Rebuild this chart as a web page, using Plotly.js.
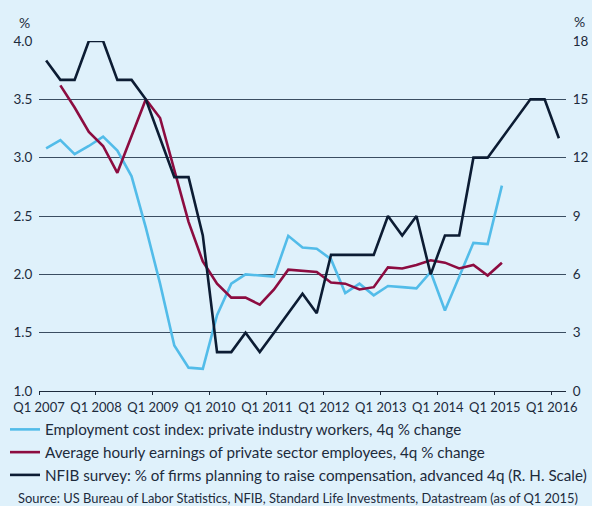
<!DOCTYPE html>
<html>
<head>
<meta charset="utf-8">
<script src="https://cdn.plot.ly/plotly-3.0.1.min.js"></script>
<style>html,body{margin:0;padding:0;background:#dff1fb;}#chart{width:592px;height:506px;}</style>
</head>
<body>
<div id="chart"></div>
<script>
// Quarters (categories)
const quarters = ["Q1 2007","Q2 2007","Q3 2007","Q4 2007","Q1 2008","Q2 2008","Q3 2008","Q4 2008",
  "Q1 2009","Q2 2009","Q3 2009","Q4 2009","Q1 2010","Q2 2010","Q3 2010","Q4 2010",
  "Q1 2011","Q2 2011","Q3 2011","Q4 2011","Q1 2012","Q2 2012","Q3 2012","Q4 2012",
  "Q1 2013","Q2 2013","Q3 2013","Q4 2013","Q1 2014","Q2 2014","Q3 2014","Q4 2014",
  "Q1 2015","Q2 2015","Q3 2015","Q4 2015","Q1 2016"];
const tickLabels = ["Q1 2007","Q1 2008","Q1 2009","Q1 2010","Q1 2011","Q1 2012","Q1 2013","Q1 2014","Q1 2015","Q1 2016"];

// Employment cost index, 4q % change (left scale), Q1 2007 - Q1 2015
const eci = [3.08,3.15,3.03,3.10,3.18,3.06,2.84,2.40,1.92,1.39,1.20,1.19,1.65,1.92,2.00,1.99,
  1.98,2.33,2.23,2.22,2.13,1.84,1.92,1.82,1.90,1.89,1.88,2.02,1.69,1.98,2.27,2.26,2.76];
// Average hourly earnings, 4q % change (left scale), from Q2 2007
const ahe = [null,3.62,3.43,3.22,3.10,2.87,3.18,3.50,3.34,2.89,2.45,2.11,1.92,1.80,1.80,1.74,
  1.87,2.04,2.03,2.02,1.93,1.92,1.87,1.89,2.06,2.05,2.08,2.12,2.10,2.05,2.08,1.99,2.10];
// NFIB: % of firms planning to raise compensation, advanced 4q (right scale)
const nfib = [17,16,16,18,18,16,16,15,13,11,11,8,2,2,3,2,3,4,5,4,7,7,7,7,9,8,9,6,8,8,12,12,13,14,15,15,13];

const seriesNames = [
  "Employment cost index: private industry workers, 4q % change",
  "Average hourly earnings of private sector employees, 4q % change",
  "NFIB survey: % of firms planning to raise compensation, advanced 4q (R. H. Scale)"
];

// x position of each quarter: quarter index, plotted at mid-quarter
const xOf = q => quarters.indexOf(q) + 0.5;
const xs = n => quarters.slice(0, n).map(xOf);
const tickVals = tickLabels.map(q => quarters.indexOf(q));

const txt = '#1d2b3c';
const traces = [
  {x: xs(eci.length), y: eci, name: seriesNames[0], type:'scatter', mode:'lines',
   line:{color:'#52bce9', width:2.6}},
  {x: xs(ahe.length), y: ahe, name: seriesNames[1], type:'scatter', mode:'lines',
   line:{color:'#8c0c40', width:2.6}},
  {x: xs(nfib.length), y: nfib, name: seriesNames[2], type:'scatter', mode:'lines',
   line:{color:'#0c1c33', width:2.6}, yaxis:'y2'}
];

const layout = {
  width:592, height:506,
  margin:{l:39, r:26, t:41, b:115, autoexpand:false},
  paper_bgcolor:'#dff1fb', plot_bgcolor:'#dff1fb',
  font:{family:'Lato, "Open Sans", sans-serif', color:txt, size:13},
  showlegend:true,
  xaxis:{range:[0,37], tickmode:'array', tickvals:tickVals, ticktext:tickLabels,
    ticks:'outside', ticklen:4, tickcolor:'rgba(0,0,0,0)',
    minor:{ticks:'outside', ticklen:3, tickcolor:txt, tickwidth:1, tick0:0, dtick:4, showgrid:false},
    showline:true, linecolor:txt, linewidth:1, showgrid:false, zeroline:false,
    tickfont:{size:13, color:txt}},
  yaxis:{range:[1,4], tick0:1, dtick:0.5, tickformat:'.1f', showgrid:true,
    gridcolor:'#3a4d61', gridwidth:1, zeroline:false, showline:false,
    ticks:'outside', ticklen:3, tickcolor:'rgba(0,0,0,0)',
    tickfont:{size:13.5, color:txt}},
  yaxis2:{overlaying:'y', anchor:'x', side:'right', range:[0,18], tick0:0, dtick:3,
    showgrid:false, zeroline:false, showline:false,
    ticks:'outside', ticklen:3, tickcolor:'rgba(0,0,0,0)',
    tickfont:{size:13.5, color:txt}},
  legend:{x:-34/527, y:(391-413)/350, xanchor:'left', yanchor:'top',
    orientation:'v', bgcolor:'rgba(0,0,0,0)', font:{size:15.2, color:txt},
    tracegroupgap:0},
  annotations:[
    {text:'%', xref:'paper', yref:'paper', x:(24.5-39)/527, y:(391-22.5)/350, showarrow:false,
     xanchor:'center', yanchor:'middle', font:{size:14, color:txt}},
    {text:'%', xref:'paper', yref:'paper', x:(579-39)/527, y:(391-21.5)/350, showarrow:false,
     xanchor:'center', yanchor:'middle', font:{size:14, color:txt}},
    {text:'Source: US Bureau of Labor Statistics, NFIB, Standard Life Investments, Datastream (as of Q1 2015)',
     xref:'paper', yref:'paper', x:(16-39)/527, y:(391-497.5)/350, showarrow:false,
     xanchor:'left', yanchor:'middle', font:{size:12.9, color:txt}}
  ]
};

Plotly.newPlot('chart', traces, layout, {displayModeBar:false, staticPlot:true});
</script>
</body>
</html>
